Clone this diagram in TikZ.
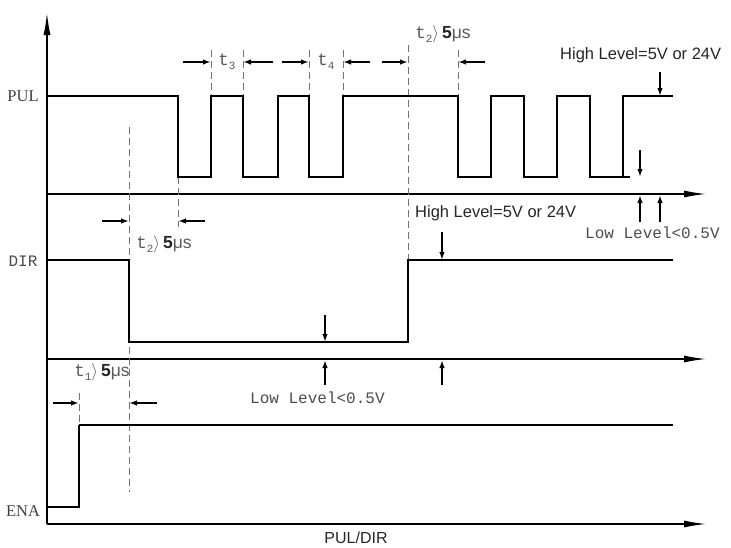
\documentclass[tikz,border=0pt]{standalone}
\usepackage{fontspec}
\setmainfont{Liberation Serif}
\setsansfont{Liberation Sans}
\setmonofont{Liberation Mono}
\usetikzlibrary{arrows.meta}
\newcommand\tsubx[1]{{\ttfamily t}\raisebox{-4pt}{\fontsize{11}{11}\selectfont\ttfamily #1}}
\newcommand\tminx[1]{\tsubx{#1}$\rangle$\,{\sffamily\bfseries\color{black!85}5}{\sffamily μs}}
\begin{document}
\begin{tikzpicture}[x=1pt,y=-1pt,
  sig/.style={line width=1.8pt, line join=miter},
  thinsig/.style={line width=1.3pt, line join=miter},
  axis/.style={line width=1.8pt,-{Latex[length=23pt,width=7pt]}},
  dimarrow/.style={line width=1.6pt,-{Latex[length=8pt,width=5.5pt]}},
  lvl/.style={line width=1.9pt,-{Latex[length=8pt,width=5.5pt]}},
  guide/.style={line width=0.8pt, black!55, dash pattern=on 7pt off 4pt},
  siglabel/.style={font=\fontsize{16.5}{16.5}\selectfont, text=black!75, inner sep=0pt},
  monolabel/.style={font=\fontsize{16}{16}\selectfont\ttfamily, text=black!70, inner sep=0pt},
  sanslabel/.style={font=\fontsize{16.5}{16.5}\selectfont\sffamily, text=black!85, inner sep=0pt},
  tlabel/.style={font=\fontsize{17.5}{17.5}\selectfont, text=black!65, inner sep=0pt}]
\useasboundingbox (0,0) rectangle (731,547);
\begin{scope}
\clip (0,0) rectangle (731,547);
% axes
\coordinate (o) at (47,524);
\coordinate (ytop) at (47,12);
\coordinate (pulax0) at (47,194);
\coordinate (pulax1) at (707,194);
\coordinate (dirax0) at (47,359);
\coordinate (dirax1) at (707,359);
\coordinate (enaax1) at (707,524);
\draw[axis] (o) -- (ytop);
\draw[axis] (o) -- (enaax1);
\draw[axis] (pulax0) -- (pulax1);
\draw[axis] (dirax0) -- (dirax1);

% guides
\foreach \x in {211,243,309,343,458} \draw[guide] (\x,50) -- (\x,96);
\draw[guide] (178,177) -- (178,227);
\draw[guide] (408,45) -- (408,260);
\draw[guide] (129,127) -- (129,492);
\draw[guide] (79,393) -- (79,425);

% PUL signal
\draw[sig] (47,96) -- (178,96) -- (178,177) -- (211,177) -- (211,96) -- (243,96) -- (243,177)
  -- (278,177) -- (278,96) -- (309,96) -- (309,177) -- (343,177) -- (343,96) -- (458,96)
  -- (458,177) -- (491,177) -- (491,96) -- (524,96) -- (524,177) -- (557,177) -- (557,96)
  -- (590,96) -- (590,177) -- (630,177);
\draw[thinsig] (623,177) -- (623,96);
\draw[sig] (622,96) -- (673,96);

% DIR signal
\draw[sig] (47,260) -- (129,260) -- (129,342) -- (408,342) -- (408,260) -- (673,260);

% ENA signal
\draw[sig] (47,507) -- (79,507) -- (79,425);
\draw[thinsig] (79,425) -- (673,425);

% timing dimension arrows (PUL)
\draw[dimarrow] (183,62) -- (211,62);
\draw[dimarrow] (273,62) -- (243,62);
\draw[dimarrow] (282,62) -- (309,62);
\draw[dimarrow] (370,62) -- (343,62);
\draw[dimarrow] (382,62) -- (408,62);
\draw[dimarrow] (485,62) -- (458,62);
\node[tlabel] (t3) at (227,62) {\tsubx{3}};
\node[tlabel] (t4) at (326,62) {\tsubx{4}};
\node[tlabel] (t2a) at (443,34) {\tminx{2}};

% DIR setup arrows
\draw[dimarrow] (102,221) -- (129,221);
\draw[dimarrow] (205,221) -- (178,221);
\node[tlabel] (t2b) at (164,244) {\tminx{2}};

% ENA setup arrows
\draw[dimarrow] (53,403) -- (79,403);
\draw[dimarrow] (157,403) -- (129,403);
\node[tlabel] (t1) at (102,372) {\tminx{1}};

% level arrows
\draw[lvl] (660,72) -- (660,96);
\draw[lvl] (640,150) -- (640,177);
\draw[lvl] (640,222) -- (640,195);
\draw[lvl] (660,222) -- (660,195);
\draw[lvl] (325,315) -- (325,342);
\draw[lvl] (325,385) -- (325,360);
\draw[lvl] (442,232) -- (442,260);
\draw[lvl] (442,385) -- (442,360);

% labels
\node[siglabel] (pul) at (23,96) {PUL};
\node[monolabel] (dir) at (23,261) {DIR};
\node[siglabel] (ena) at (23,511) {ENA};
\node[sanslabel, anchor=west] (hl1) at (560,55) {High Level=5V or 24V};
\node[sanslabel, anchor=west] (hl2) at (415,213) {High Level=5V or 24V};
\node[monolabel, anchor=west] (ll1) at (585,233) {Low Level<0.5V};
\node[monolabel, anchor=west] (ll2) at (250,398) {Low Level<0.5V};
\node[sanslabel, font=\fontsize{16}{16}\selectfont\sffamily] (xl) at (356,538) {PUL/DIR};
\end{scope}
\end{tikzpicture}
\end{document}
